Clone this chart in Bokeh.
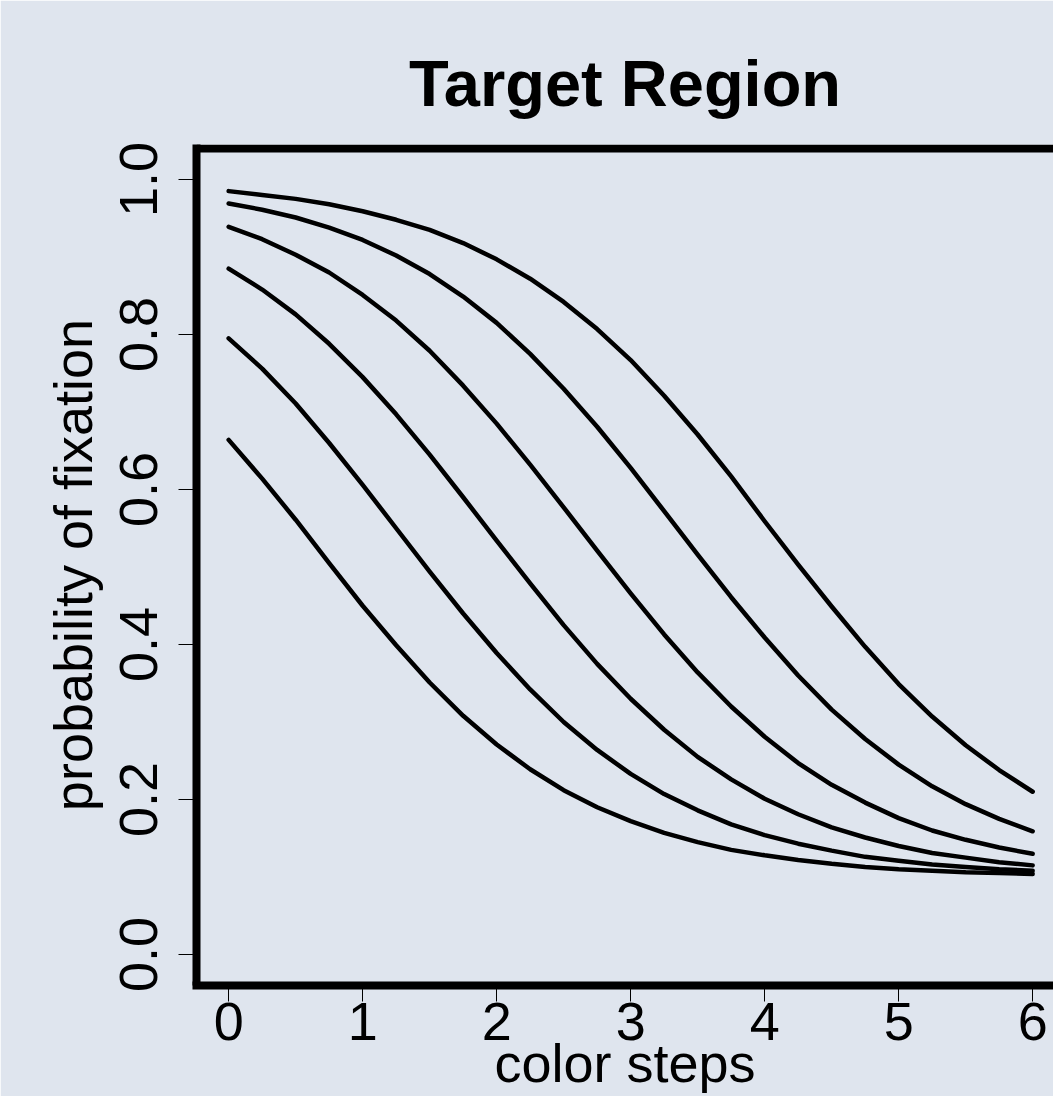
from bokeh.plotting import figure
from bokeh.models import Range1d, Span, FixedTicker, NumeralTickFormatter
from bokeh.embed import file_html
from bokeh.resources import INLINE

# ---- data ----
color_steps = [0.0, 0.25, 0.5, 0.75, 1.0, 1.25, 1.5, 1.75, 2.0, 2.25, 2.5, 2.75, 3.0,
               3.25, 3.5, 3.75, 4.0, 4.25, 4.5, 4.75, 5.0, 5.25, 5.5, 5.75, 6.0]

curve_1 = [0.985, 0.980, 0.975, 0.968, 0.959, 0.948, 0.935, 0.918, 0.897, 0.872, 0.842, 0.807, 0.767,
           0.721, 0.671, 0.617, 0.559, 0.503, 0.449, 0.397, 0.349, 0.307, 0.270, 0.238, 0.210]
curve_2 = [0.969, 0.961, 0.951, 0.938, 0.922, 0.902, 0.878, 0.849, 0.815, 0.775, 0.730, 0.681, 0.628,
           0.572, 0.516, 0.461, 0.409, 0.360, 0.316, 0.278, 0.245, 0.217, 0.194, 0.175, 0.159]
curve_3 = [0.939, 0.923, 0.903, 0.880, 0.851, 0.818, 0.779, 0.734, 0.685, 0.632, 0.577, 0.521, 0.466,
           0.413, 0.364, 0.320, 0.281, 0.247, 0.219, 0.196, 0.176, 0.160, 0.148, 0.138, 0.130]
curve_4 = [0.885, 0.858, 0.826, 0.788, 0.745, 0.697, 0.645, 0.590, 0.534, 0.479, 0.425, 0.375, 0.330,
           0.290, 0.255, 0.226, 0.201, 0.181, 0.164, 0.151, 0.140, 0.131, 0.125, 0.119, 0.115]
curve_5 = [0.795, 0.756, 0.711, 0.660, 0.606, 0.550, 0.494, 0.440, 0.389, 0.342, 0.300, 0.264, 0.233,
           0.207, 0.186, 0.168, 0.154, 0.143, 0.134, 0.126, 0.121, 0.116, 0.113, 0.110, 0.108]
curve_6 = [0.664, 0.614, 0.561, 0.505, 0.450, 0.399, 0.351, 0.308, 0.271, 0.239, 0.212, 0.190, 0.172,
           0.157, 0.145, 0.135, 0.128, 0.122, 0.117, 0.113, 0.110, 0.108, 0.106, 0.105, 0.104]

curves = [curve_1, curve_2, curve_3, curve_4, curve_5, curve_6]

x_ticks = [0, 1, 2, 3, 4, 5, 6]
y_ticks = [0.0, 0.2, 0.4, 0.6, 0.8, 1.0]

title_text = "Target Region"
x_label = "color steps"
y_label = "probability of fixation"

# ---- styling ----
BG = "#dfe5ee"
FONT = "Liberation Sans"
BOX_W = 8

W, H = 1053, 1096
LEFT, TOP, BOTTOM = 196, 144, 111
PX_PER_X = 134.0
PX_PER_Y = 775.0

x_lo, x_hi = min(color_steps), max(color_steps)
x_pad = 0.04 * (x_hi - x_lo)
y_lo, y_hi = 0.0, 1.0
y_pad = 0.04 * (y_hi - y_lo)

x_start = x_lo - x_pad
x_end = x_start + (W - LEFT) / PX_PER_X
y_start = y_lo - y_pad
y_end = y_hi + y_pad + (BOX_W / 2) / PX_PER_Y

p = figure(
    width=W, height=H,
    output_backend="svg", toolbar_location=None,
    x_range=Range1d(x_start, x_end),
    y_range=Range1d(y_start, y_end),
    min_border_left=LEFT, min_border_right=0,
    min_border_top=TOP, min_border_bottom=BOTTOM,
    background_fill_color=BG, border_fill_color=BG,
    outline_line_color=None,
)

p.grid.visible = False

for ys in curves:
    p.line(color_steps, ys, line_color="black", line_width=4.5, line_cap="round", line_join="round")

# title
p.title.text = title_text
p.title.align = "center"
p.title.text_font = FONT
p.title.text_font_size = "65px"
p.title.text_font_style = "bold"
p.title.text_color = "black"
p.title.standoff = 50
p.title.offset = 4

# x axis
xa = p.xaxis[0]
xa.ticker = FixedTicker(ticks=x_ticks)
xa.axis_line_width = BOX_W
xa.axis_line_color = "black"
xa.axis_line_cap = "square"
xa.major_tick_out = 16
xa.major_tick_in = 0
xa.major_tick_line_width = 1
xa.major_tick_line_color = "black"
xa.minor_tick_line_color = None
xa.major_label_text_font = FONT
xa.major_label_text_font_size = "54px"
xa.major_label_text_color = "black"
xa.major_label_standoff = 1
xa.axis_label = x_label
xa.axis_label_text_font = FONT
xa.axis_label_text_font_size = "54px"
xa.axis_label_text_font_style = "normal"
xa.axis_label_text_color = "black"
xa.axis_label_standoff = -10

# y axis
ya = p.yaxis[0]
ya.ticker = FixedTicker(ticks=y_ticks)
ya.formatter = NumeralTickFormatter(format="0.0")
ya.axis_line_width = BOX_W
ya.axis_line_color = "black"
ya.axis_line_cap = "butt"
ya.major_tick_out = 18
ya.major_tick_in = 0
ya.major_tick_line_width = 1
ya.major_tick_line_color = "black"
ya.minor_tick_line_color = None
ya.major_label_orientation = "vertical"
ya.major_label_text_font = FONT
ya.major_label_text_font_size = "54px"
ya.major_label_text_color = "black"
ya.major_label_standoff = 22
ya.axis_label = y_label
ya.axis_label_text_font = FONT
ya.axis_label_text_font_size = "54px"
ya.axis_label_text_font_style = "normal"
ya.axis_label_text_color = "black"
ya.axis_label_standoff = 14

# top border of the box
p.add_layout(Span(location=y_hi + y_pad, dimension="width", line_color="black", line_width=BOX_W))

open("out.html", "w").write(file_html(p, INLINE))
